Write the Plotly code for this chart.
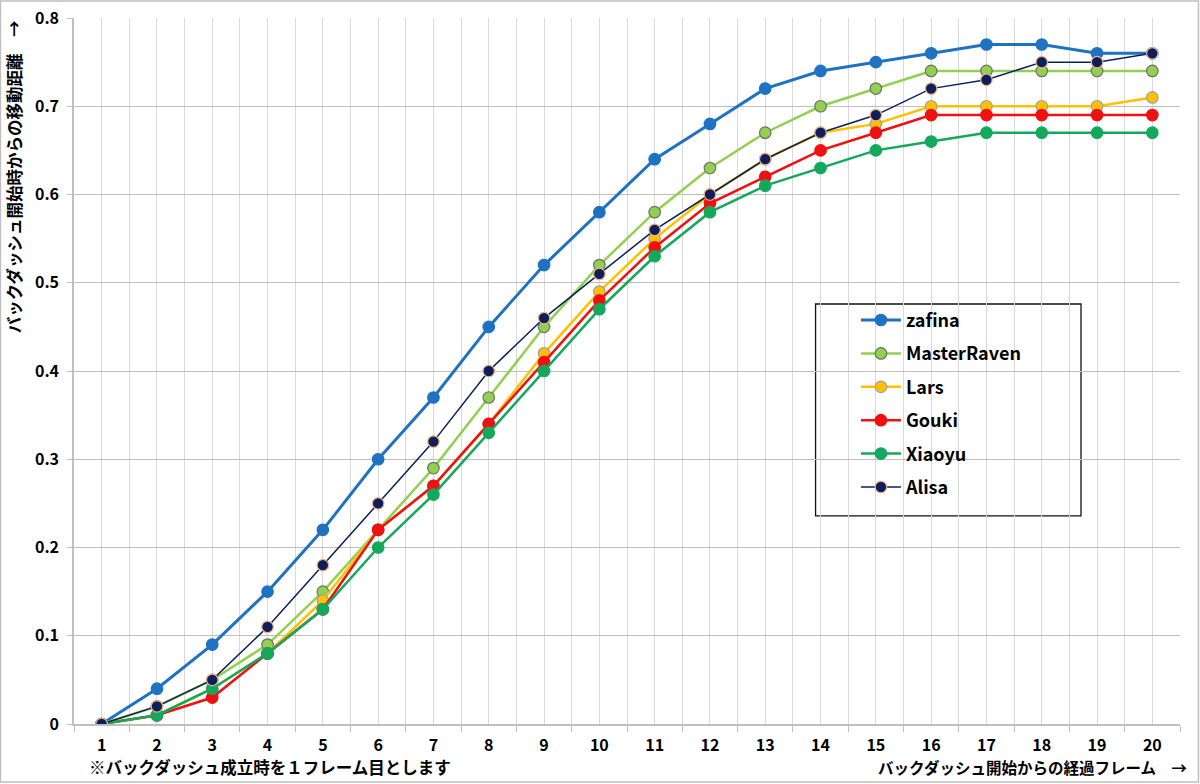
import plotly.graph_objects as go

frames = list(range(1, 21))

zafina = [0, 0.04, 0.09, 0.15, 0.22, 0.30, 0.37, 0.45, 0.52, 0.58,
          0.64, 0.68, 0.72, 0.74, 0.75, 0.76, 0.77, 0.77, 0.76, 0.76]
master_raven = [0, 0.02, 0.05, 0.09, 0.15, 0.22, 0.29, 0.37, 0.45, 0.52,
                0.58, 0.63, 0.67, 0.70, 0.72, 0.74, 0.74, 0.74, 0.74, 0.74]
lars = [0, 0.01, 0.04, 0.08, 0.14, 0.22, 0.27, 0.34, 0.42, 0.49,
        0.55, 0.60, 0.64, 0.67, 0.68, 0.70, 0.70, 0.70, 0.70, 0.71]
gouki = [0, 0.01, 0.03, 0.08, 0.13, 0.22, 0.27, 0.34, 0.41, 0.48,
         0.54, 0.59, 0.62, 0.65, 0.67, 0.69, 0.69, 0.69, 0.69, 0.69]
xiaoyu = [0, 0.01, 0.04, 0.08, 0.13, 0.20, 0.26, 0.33, 0.40, 0.47,
          0.53, 0.58, 0.61, 0.63, 0.65, 0.66, 0.67, 0.67, 0.67, 0.67]
alisa = [0, 0.02, 0.05, 0.11, 0.18, 0.25, 0.32, 0.40, 0.46, 0.51,
         0.56, 0.60, 0.64, 0.67, 0.69, 0.72, 0.73, 0.75, 0.75, 0.76]

y_ticks = [0, 0.1, 0.2, 0.3, 0.4, 0.5, 0.6, 0.7, 0.8]
y_labels = ["0", "0.1", "0.2", "0.3", "0.4", "0.5", "0.6", "0.7", "0.8"]

FONT = "Noto Sans CJK JP"

# name, values, line colour, line width, marker outline
series = [
    ("zafina", zafina, "#1f72c2", 3, "#1f72c2"),
    ("MasterRaven", master_raven, "#92d050", 2.5, "#6f6f6f"),
    ("Lars", lars, "#ffc000", 2.5, "#a0a0a0"),
    ("Gouki", gouki, "#f01010", 2.5, "#f01010"),
    ("Xiaoyu", xiaoyu, "#14a85c", 2.5, "#14a85c"),
    ("Alisa", alisa, "#0c1f5c", 1.5, "#f4b183"),
]

fig = go.Figure()
for i, (name, vals, col, w, edge) in enumerate(series):
    fig.add_trace(go.Scatter(
        x=frames, y=vals, name=name, mode="lines+markers",
        line=dict(color=col, width=w),
        marker=dict(size=11.5, color=col, line=dict(color=edge, width=1.2)),
        legendgroup=str(i),
    ))

# legend box
fig.add_shape(type="rect", xref="paper", yref="paper",
              x0=0.6705, x1=0.9105, y0=0.2949, y1=0.5949,
              line=dict(color="#111111", width=1.3), fillcolor="white",
              layer="below")

# chart border
fig.add_shape(type="rect", xref="paper", yref="paper",
              x0=-0.0665, x1=1.0167, y0=-0.0822, y1=1.0241,
              line=dict(color="#bfbfbf", width=1.5))

fig.add_annotation(text="バックダッシュ開始時からの移動距離　→",
                   xref="paper", yref="paper", x=-0.0545, y=1.0,
                   xanchor="center", yanchor="top", textangle=-90,
                   showarrow=False, font=dict(size=16.5, color="black", family=FONT, weight="bold"))
fig.add_annotation(text="※バックダッシュ成立時を１フレーム目とします",
                   xref="paper", yref="paper", x=0.0115, y=-0.061,
                   xanchor="left", yanchor="middle",
                   showarrow=False, font=dict(size=16.5, color="black", family=FONT, weight="bold"))
fig.add_annotation(text="バックダッシュ開始からの経過フレーム　→",
                   xref="paper", yref="paper", x=1.008, y=-0.061,
                   xanchor="right", yanchor="middle",
                   showarrow=False, font=dict(size=15.5, color="black", family=FONT, weight="bold"))

fig.update_xaxes(
    range=[0.5, 20.5], tickvals=frames, ticks="",
    showgrid=True, gridcolor="#d9d9d9", gridwidth=1,
    showline=True, linecolor="#bfbfbf", linewidth=1.5,
    zeroline=False, ticklabelstandoff=6, automargin=False,
    tickfont=dict(size=16, color="black", family=FONT, weight="bold"),
    minor=dict(tickvals=[f + 0.5 for f in range(0, 21)], ticks="outside",
               ticklen=6, tickcolor="#bfbfbf", showgrid=True,
               gridcolor="#d9d9d9", gridwidth=1),
)
fig.update_yaxes(
    range=[0, 0.8], tickvals=y_ticks, ticktext=y_labels,
    showgrid=True, gridcolor="#bfbfbf", gridwidth=1.2,
    showline=True, linecolor="#bfbfbf", linewidth=1.5,
    ticks="outside", ticklen=5, tickcolor="#bfbfbf",
    zeroline=False, automargin=False, ticklabelstandoff=5,
    tickfont=dict(size=16, color="black", family=FONT, weight="bold"),
)

fig.update_layout(
    width=1200, height=784,
    margin=dict(l=74, r=20, t=18, b=60),
    plot_bgcolor="white", paper_bgcolor="white",
    font=dict(family=FONT),
    showlegend=True,
    legend=dict(x=0.707, y=0.598, xanchor="left", yanchor="top",
                bgcolor="rgba(0,0,0,0)", borderwidth=0,
                itemwidth=40, tracegroupgap=7, traceorder="grouped",
                font=dict(size=18, color="black", family=FONT, weight="bold")),
)

fig.write_html("out.html", config={"displayModeBar": False},
               post_script="document.body.style.margin='0';")
